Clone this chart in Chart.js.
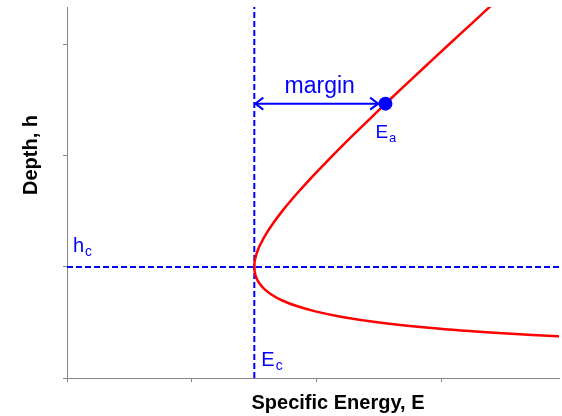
<!DOCTYPE html>
<html>
<head>
<meta charset="utf-8">
<script src="https://cdn.jsdelivr.net/npm/chart.js@4/dist/chart.umd.min.js"></script>
<style>
    html, body { margin: 0; padding: 0; background: #fff; overflow: hidden; }
    /* a few px wider than the window: the axis runs to the right edge */
    #wrap { width: 566px; height: 416px; }
</style>
</head>
<body>
<div id="wrap"><canvas id="energy"></canvas></div>
<script>
// specific energy curve (h_c = 1, E_c = 1.5)
const curveDepth = [0.36, 0.375, 0.4, 0.425, 0.45, 0.5, 0.55, 0.6, 0.65, 0.7, 0.75, 0.8, 0.85, 0.9, 0.95, 1.0, 1.05, 1.1, 1.15, 1.2, 1.3, 1.4, 1.5, 1.6, 1.7, 1.8, 1.9, 2.0, 2.2, 2.4, 2.6, 2.8, 3.0, 3.2, 3.4];
const curveEnergy = [4.218, 3.931, 3.525, 3.193, 2.919, 2.500, 2.203, 1.989, 1.833, 1.720, 1.639, 1.581, 1.542, 1.517, 1.504, 1.500, 1.503, 1.513, 1.528, 1.547, 1.596, 1.655, 1.722, 1.795, 1.873, 1.954, 2.039, 2.125, 2.303, 2.487, 2.674, 2.864, 3.056, 3.249, 3.443];

const criticalEnergy = 1.5;
const criticalDepth = 1.0;
const pointAEnergy = 2.55;
const pointADepth = 2.47;
const arrowEndEnergy = 2.50;

const xMax = 3.94;
const yMax = 3.34;

const blue = '#0000FF';
const red = '#FF0000';
const axisGray = '#868686';
const font = '"Liberation Sans", Arial, sans-serif';

// text with a subscript, e.g. E + a
function subText(ctx, main, sub, x, y, size) {
    ctx.font = size + 'px ' + font;
    ctx.fillText(main, x, y);
    const w = ctx.measureText(main).width;
    ctx.font = Math.round(size * 0.68) + 'px ' + font;
    ctx.fillText(sub, x + w + 1, y + 4);
}

const annotations = {
    id: 'annotations',
    afterDraw(chart) {
        const ctx = chart.ctx;
        const xs = chart.scales.x;
        const ys = chart.scales.y;
        ctx.save();

        // arrow heads on the margin line
        const ay = ys.getPixelForValue(pointADepth);
        const ax1 = xs.getPixelForValue(criticalEnergy);
        const ax2 = xs.getPixelForValue(arrowEndEnergy);
        ctx.strokeStyle = blue;
        ctx.lineWidth = 2;
        ctx.beginPath();
        ctx.moveTo(ax1 + 9, ay - 6);
        ctx.lineTo(ax1 + 1, ay);
        ctx.lineTo(ax1 + 9, ay + 6);
        ctx.moveTo(ax2 - 9, ay - 6);
        ctx.lineTo(ax2 - 1, ay);
        ctx.lineTo(ax2 - 9, ay + 6);
        ctx.stroke();

        ctx.fillStyle = blue;
        ctx.textBaseline = 'alphabetic';
        ctx.textAlign = 'center';
        ctx.font = '23px ' + font;
        ctx.fillText('margin', (ax1 + ax2) / 2 + 3, ay - 11);

        ctx.textAlign = 'left';
        const px = xs.getPixelForValue(pointAEnergy);
        subText(ctx, 'E', 'a', px - 10, ay + 34, 19);
        subText(ctx, 'h', 'c', chart.chartArea.left + 6, ys.getPixelForValue(criticalDepth) - 15, 20);
        subText(ctx, 'E', 'c', xs.getPixelForValue(criticalEnergy) + 7, chart.chartArea.bottom - 12, 20);

        // axis titles
        ctx.fillStyle = '#000';
        ctx.font = 'bold 20px ' + font;
        ctx.textAlign = 'center';
        ctx.fillText('Specific Energy, E', 338, 409);
        ctx.translate(37, 155);
        ctx.rotate(-Math.PI / 2);
        ctx.fillText('Depth, h', 0, 0);
        ctx.restore();
    }
};

const axis = (max) => ({
    type: 'linear',
    min: 0,
    max: max,
    ticks: { display: false, stepSize: 1 },
    // keep only the whole-number ticks, no tick at the axis end
    afterBuildTicks: (scale) => {
        scale.ticks = scale.ticks.filter((t) => Number.isInteger(t.value));
    },
    grid: { drawOnChartArea: false, drawTicks: true, tickLength: 4, color: axisGray },
    border: { color: axisGray, width: 1 },
});

const ctx = document.getElementById('energy').getContext('2d');
const energyChart = new Chart(ctx, {
    type: 'scatter',
    data: {
        datasets: [
            {
                label: 'E_a',
                data: [{ x: pointAEnergy, y: pointADepth }],
                backgroundColor: blue,
                borderWidth: 0,
                pointRadius: 7,
            },
            {
                label: 'margin',
                data: [{ x: criticalEnergy, y: pointADepth }, { x: arrowEndEnergy, y: pointADepth }],
                showLine: true,
                borderColor: blue,
                borderWidth: 2,
                pointRadius: 0,
            },
            {
                label: 'E',
                data: curveEnergy.map((e, i) => ({ x: e, y: curveDepth[i] })),
                showLine: true,
                borderColor: red,
                borderWidth: 2.5,
                tension: 0.4,
                pointRadius: 0,
            },
            {
                label: 'E_c',
                data: [{ x: criticalEnergy, y: 0 }, { x: criticalEnergy, y: yMax }],
                showLine: true,
                borderColor: blue,
                borderWidth: 2,
                borderDash: [6, 3],
                pointRadius: 0,
            },
            {
                label: 'h_c',
                data: [{ x: 0, y: criticalDepth }, { x: xMax, y: criticalDepth }],
                showLine: true,
                borderColor: blue,
                borderWidth: 2,
                borderDash: [6, 3],
                pointRadius: 0,
            },
        ],
    },
    options: {
        responsive: true,
        maintainAspectRatio: false,
        animation: false,
        layout: {
            padding: { left: 63, top: 6, right: 0, bottom: 34 },
        },
        plugins: {
            legend: { display: false },
            tooltip: { enabled: false },
        },
        scales: {
            x: axis(xMax),
            y: axis(yMax),
        },
    },
    plugins: [annotations],
});
</script>
</body>
</html>
